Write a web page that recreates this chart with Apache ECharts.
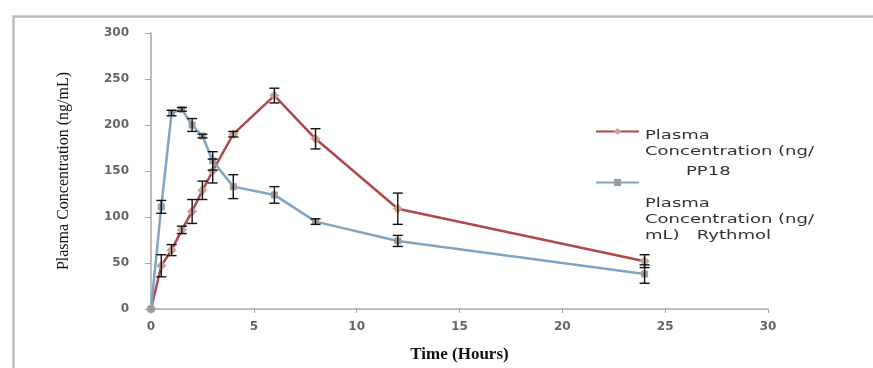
<!DOCTYPE html>
<html>
<head>
<meta charset="utf-8">
<script src="https://cdn.jsdelivr.net/npm/echarts@6/dist/echarts.min.js"></script>
<style>
html,body{margin:0;padding:0;background:#fff;}
#chart{width:873px;height:368px;}
</style>
</head>
<body>
<div id="chart"></div>
<script>
// 时间点 (小时)
var times = [0, 0.5, 1, 1.5, 2, 2.5, 3, 4, 6, 8, 12, 24];
// PP18 血药浓度及误差
var pp18 = [0, 47, 64, 86, 106, 129, 150, 190, 232, 185, 109, 52];
var pp18Err = [0, 12, 6, 4, 13, 10, 13, 3, 8, 11, 17, 7];
// Rythmol 血药浓度及误差
var rythmol = [0, 111, 213, 217, 200, 188, 161, 133, 124, 95, 74, 38];
var rythmolErr = [0, 7, 3, 2, 7, 2, 10, 13, 9, 3, 6, 10];

var namePP18 = 'Plasma Concentration (ng/mL) PP18';
var nameRyth = 'Plasma Concentration (ng/mL) Rythmol';

function toPairs(xs, ys){
	var out = [];
	for(var i=0;i<xs.length;i++){
		out.push([xs[i], ys[i]]);
	}
	return out;
}
function toErr(xs, ys, es){
	var out = [];
	for(var i=0;i<xs.length;i++){
		if(es[i]>0) out.push([xs[i], ys[i]-es[i], ys[i]+es[i]]);
	}
	return out;
}
//误差线
function renderErr(params, api){
	var x = api.value(0);
	var lo = api.coord([x, api.value(1)]);
	var hi = api.coord([x, api.value(2)]);
	var w = 5;
	var st = {stroke:'#111', lineWidth:1.4};
	return {
		type:'group',
		children:[
			{type:'line', shape:{x1:lo[0],y1:lo[1],x2:hi[0],y2:hi[1]}, style:st},
			{type:'line', shape:{x1:lo[0]-w,y1:lo[1],x2:lo[0]+w,y2:lo[1]}, style:st},
			{type:'line', shape:{x1:hi[0]-w,y1:hi[1],x2:hi[0]+w,y2:hi[1]}, style:st}
		]
	};
}
function legendText(txt, lh){
	return {fontFamily:'DejaVu Sans', fontSize:12, fill:'#333', text:txt, lineHeight:lh||16};
}

var axisFont = {fontFamily:'DejaVu Sans', fontSize:12, fontWeight:'bold', color:'#666'};

var myChart = echarts.init(document.getElementById('chart'));
var option = {
	backgroundColor:'#fff',
	animation:false,
	grid:{left:151, right:105, top:33, bottom:54},
	xAxis:{
		type:'value', min:0, max:30, interval:5,
		name:'Time (Hours)', nameLocation:'middle', nameGap:37,
		nameTextStyle:{fontFamily:'Liberation Serif', fontSize:17, fontWeight:'bold', color:'#111'},
		axisLine:{lineStyle:{color:'#a6a6a6', width:1.5}},
		axisTick:{show:true, length:4, lineStyle:{color:'#a6a6a6'}},
		axisLabel:Object.assign({margin:12}, axisFont),
		splitLine:{show:false}
	},
	yAxis:{
		type:'value', min:0, max:300, interval:50,
		name:'Plasma Concentration (ng/mL)', nameLocation:'middle', nameGap:79, nameRotate:90,
		nameTextStyle:{fontFamily:'Liberation Serif', fontSize:16, color:'#111'},
		axisLine:{show:true, lineStyle:{color:'#a6a6a6', width:1.5}},
		axisTick:{show:true, length:6, lineStyle:{color:'#a6a6a6'}},
		axisLabel:Object.assign({margin:22}, axisFont),
		splitLine:{show:false}
	},
	legend:[
		{data:[namePP18], left:595, top:127, itemWidth:43, itemHeight:9, formatter:function(){return '';}, itemGap:0, padding:0},
		{data:[nameRyth], left:595, top:178, itemWidth:43, itemHeight:9, formatter:function(){return '';}, itemGap:0, padding:0}
	],
	graphic:[
		{type:'rect', left:11, top:14, shape:{width:900, height:400}, style:{fill:'none', stroke:'#bdbdbd', lineWidth:2.5}, silent:true},
		{type:'text', x:645, y:128, scaleX:1.5, style:legendText('Plasma\nConcentration (ng/')},
		{type:'text', x:686, y:164, scaleX:1.5, style:legendText('PP18')},
		{type:'text', x:645, y:196, scaleX:1.5, style:legendText('Plasma\nConcentration (ng/\nmL)   Rythmol')}
	],
	series:[
		{
			name:namePP18, type:'line', data:toPairs(times, pp18),
			symbol:'diamond', symbolSize:9,
			lineStyle:{color:'#b0474b', width:2.5},
			itemStyle:{color:'#c9a391', borderColor:'#c9a391'},
			z:3
		},
		{
			name:nameRyth, type:'line', data:toPairs(times, rythmol),
			symbol:'rect', symbolSize:6,
			lineStyle:{color:'#7ea6c4', width:2.5},
			itemStyle:{color:'#9c9c9c', borderColor:'#9c9c9c'},
			z:3
		},
		{type:'custom', renderItem:renderErr, data:toErr(times, pp18, pp18Err), encode:{x:0, y:[1,2]}, z:4, silent:true},
		{type:'custom', renderItem:renderErr, data:toErr(times, rythmol, rythmolErr), encode:{x:0, y:[1,2]}, z:4, silent:true}
	]
};
myChart.setOption(option);
</script>
</body>
</html>
